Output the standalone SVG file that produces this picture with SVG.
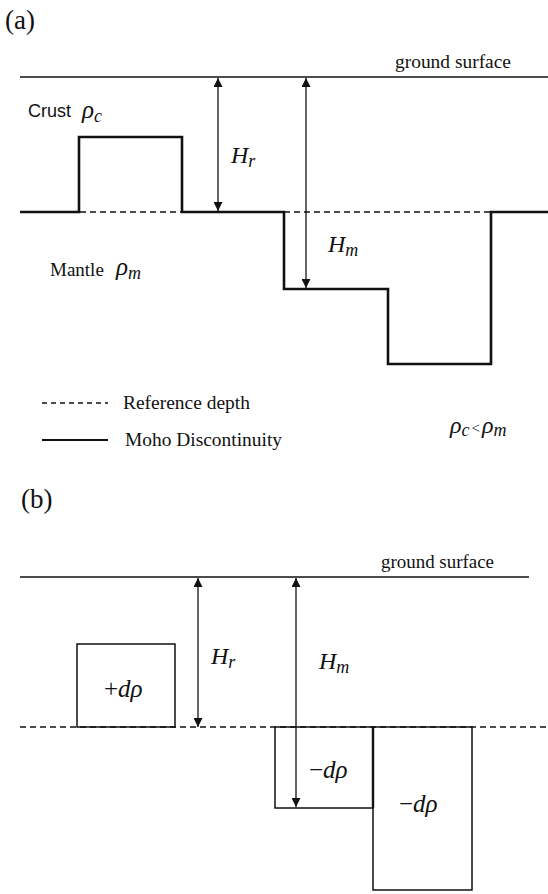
<svg xmlns="http://www.w3.org/2000/svg" width="548" height="894" viewBox="0 0 548 894">
<style>
text{font-family:"Liberation Serif","Times New Roman",serif;fill:#111}
.lbl{font-size:19px}
.sans{font-family:"Liberation Sans",Arial,sans-serif;font-size:18px}
.pan{font-size:27px}
.sym{font-style:italic;font-size:25px}
.sub{font-style:italic;font-size:18px}
.thin{stroke:#111;stroke-width:1.3;fill:none}
.moho{stroke:#111;stroke-width:2.6;fill:none}
.dash{stroke:#111;stroke-width:1.6;stroke-dasharray:6 4;fill:none}
.box{stroke:#111;stroke-width:1.5;fill:none}
.arr{stroke:#111;stroke-width:1.3;fill:none}
</style>
<defs>
<marker id="ah" viewBox="0 0 10 10" refX="10" refY="5" markerWidth="10" markerHeight="9" markerUnits="userSpaceOnUse" orient="auto-start-reverse">
<path d="M0,0 L10,5 L0,10 z" fill="#111"/>
</marker>
</defs>

<g id="panel-a">
<text class="pan" x="5" y="29">(a)</text>
<g id="a-ground">
<line class="thin" x1="20" y1="77" x2="548" y2="77"/>
<text class="lbl" x="395" y="68" textLength="116" lengthAdjust="spacingAndGlyphs">ground surface</text>
</g>
<g id="a-reference">
<line class="dash" x1="80" y1="212" x2="182" y2="212"/>
<line class="dash" x1="284" y1="212" x2="491" y2="212"/>
</g>
<g id="a-moho">
<path class="moho" d="M20,212 H79 V137 H182 V212 H284 V289 H388 V364 H491 V212 H548"/>
</g>
<g id="a-crust">
<text class="sans" x="28" y="117">Crust</text>
<text x="82" y="118"><tspan class="sym">ρ</tspan><tspan class="sub" dy="4">c</tspan></text>
</g>
<g id="a-mantle">
<text class="lbl" x="50" y="276">Mantle</text>
<text x="116" y="275"><tspan class="sym">ρ</tspan><tspan class="sub" dy="4">m</tspan></text>
</g>
<g id="a-Hr-label">
<text x="231" y="163"><tspan class="sym" style="font-size:24px">H</tspan><tspan class="sub" dy="4">r</tspan></text>
</g>
<g id="a-Hm-label">
<text x="328" y="252"><tspan class="sym" style="font-size:24px">H</tspan><tspan class="sub" dy="4">m</tspan></text>
</g>
<g id="a-legend">
<line class="dash" x1="42" y1="403" x2="108" y2="403" style="stroke-width:1.3;stroke-dasharray:5 4"/>
<text class="lbl" x="123" y="409" textLength="127" lengthAdjust="spacingAndGlyphs">Reference depth</text>
<line class="moho" x1="42" y1="440" x2="108" y2="440" style="stroke-width:2"/>
<text class="lbl" x="125" y="446" textLength="157" lengthAdjust="spacingAndGlyphs">Moho Discontinuity</text>
</g>
<g id="a-relation">
<text x="450" y="433"><tspan class="sym" style="font-size:24px">ρ</tspan><tspan class="sub" style="font-size:18px" dy="3">c</tspan><tspan style="font-size:15px" dx="2" dy="-3">&lt;</tspan><tspan class="sym" style="font-size:24px" dx="2">ρ</tspan><tspan class="sub" style="font-size:18px" dy="3">m</tspan></text>
</g>
</g>

<g id="panel-b">
<text class="pan" x="21" y="508">(b)</text>
<g id="b-ground">
<line class="thin" x1="20" y1="577" x2="529" y2="577"/>
<text class="lbl" x="381" y="568" textLength="113" lengthAdjust="spacingAndGlyphs">ground surface</text>
</g>
<g id="b-reference">
<line class="dash" x1="20" y1="727" x2="548" y2="727"/>
</g>
<g id="b-box-plus">
<rect class="box" x="77" y="644" width="98" height="83"/>
<text x="104" y="697"><tspan class="sym" style="font-style:normal">+</tspan><tspan class="sym">dρ</tspan></text>
</g>
<g id="b-box-minus1">
<rect class="box" x="275" y="727" width="98" height="81"/>
<text x="309" y="778"><tspan class="sym" style="font-style:normal">−</tspan><tspan class="sym">dρ</tspan></text>
</g>
<g id="b-box-minus2">
<rect class="box" x="373" y="727" width="99" height="163"/>
<line x1="373" y1="727" x2="373" y2="808" stroke="#111" stroke-width="2.4"/>
<text x="399" y="812"><tspan class="sym" style="font-style:normal">−</tspan><tspan class="sym">dρ</tspan></text>
</g>
<g id="b-Hr-label">
<text x="211" y="664"><tspan class="sym" style="font-size:24px">H</tspan><tspan class="sub" dy="4">r</tspan></text>
</g>
<g id="b-Hm-label">
<text x="319" y="669"><tspan class="sym" style="font-size:24px">H</tspan><tspan class="sub" dy="4">m</tspan></text>
</g>
</g>

<g id="connectors">
<line class="arr" x1="218" y1="78" x2="218" y2="211" marker-start="url(#ah)" marker-end="url(#ah)"/>
<line class="arr" x1="306" y1="78" x2="306" y2="288" marker-start="url(#ah)" marker-end="url(#ah)"/>
<line class="arr" x1="198" y1="578" x2="198" y2="727" marker-start="url(#ah)" marker-end="url(#ah)"/>
<line class="arr" x1="296" y1="578" x2="296" y2="807" marker-start="url(#ah)" marker-end="url(#ah)"/>
</g>
</svg>
